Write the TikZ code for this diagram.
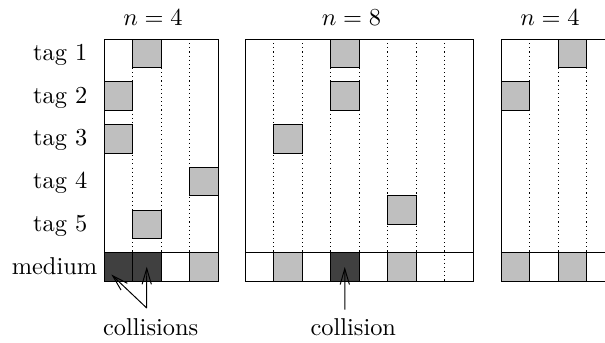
\documentclass[tikz,border=0pt]{standalone}
\usetikzlibrary{arrows.meta}
\begin{document}
\begin{tikzpicture}[x=0.41pt,y=-0.41pt,
  framebox/.style={draw=black,line width=0.4pt},
  slotline/.style={draw=black,line width=0.4pt,dash pattern=on 0.45pt off 1.25pt},
  litcell/.style={draw=black,line width=0.4pt,fill=black!25},
  darkcell/.style={draw=black,line width=0.4pt,fill=black!75,minimum width=11.685pt,minimum height=11.685pt,inner sep=0pt,outer sep=0pt},
  lbl/.style={anchor=base,inner sep=0pt},
  pointer/.style={draw=black,line width=0.4pt,-{Straight Barb[length=6.5pt,width=3.8pt]}}]
\useasboundingbox (0,0) rectangle (605,342);
\clip (0,0) rectangle (605,342);
% ---------- frame 1 (n=4) ----------
\foreach \c in {1,2,3} \draw[slotline] ({104+\c*28.5},39) -- ({104+\c*28.5},281.25);
\draw[framebox] (104,252.75) -- (218,252.75);
\foreach \c/\r in {1/0,0/1,0/2,3/3,1/4,3/5}
  \draw[litcell] ({104+\c*28.5},{39+\r*42.75}) rectangle ++(28.5,28.5);
\node[darkcell] (d1) at (118.25,267) {};
\node[darkcell] (d2) at (146.75,267) {};
\draw[framebox] (104,39) rectangle (218,281.25);
% ---------- frame 2 (n=8) ----------
\foreach \c in {1,...,7} \draw[slotline] ({245+\c*28.5},39) -- ({245+\c*28.5},281.25);
\draw[framebox] (245,252.75) -- (473,252.75);
\foreach \c/\r in {3/0,3/1,1/2,5/3.6667,1/5,5/5}
  \draw[litcell] ({245+\c*28.5},{39+\r*42.75}) rectangle ++(28.5,28.5);
\node[darkcell] (d3) at (344.75,267) {};
\draw[framebox] (245,39) rectangle (473,281.25);
% ---------- frame 3 (n=4) ----------
\foreach \c in {1,2,3} \draw[slotline] ({501+\c*28.5},39) -- ({501+\c*28.5},281.25);
\draw[framebox] (501,252.75) -- (615,252.75);
\foreach \c/\r in {2/0,0/1,0/5,2/5}
  \draw[litcell] ({501+\c*28.5},{39+\r*42.75}) rectangle ++(28.5,28.5);
\draw[framebox] (501,39) rectangle (615,281.25);
% ---------- labels ----------
\node[lbl] (h1) at (153,25) {$n=4$};
\node[lbl] (h2) at (351.5,25) {$n=8$};
\node[lbl] (h3) at (550,25) {$n=4$};
\node[lbl] (t1) at (60.3,60.25) {tag 1};
\node[lbl] (t2) at (60.3,103) {tag 2};
\node[lbl] (t3) at (60.3,145.75) {tag 3};
\node[lbl] (t4) at (60.3,188.5) {tag 4};
\node[lbl] (t5) at (60.3,231.25) {tag 5};
\node[lbl] (med) at (54.5,274.2) {medium};
\node[lbl] (cols) at (150.7,335.5) {collisions};
\node[lbl] (col) at (353.3,335.5) {collision};
% ---------- arrows ----------
\coordinate (cs) at (146.7,308);
\coordinate (ct) at (344.9,309.5);
\draw[pointer] (cs) -- ([xshift=-2.8pt,yshift=-3.1pt]d1.center);
\draw[pointer] (cs) -- ([yshift=0.1pt]d2.center);
\draw[pointer] (ct) -- (d3.center);
\end{tikzpicture}
\end{document}
